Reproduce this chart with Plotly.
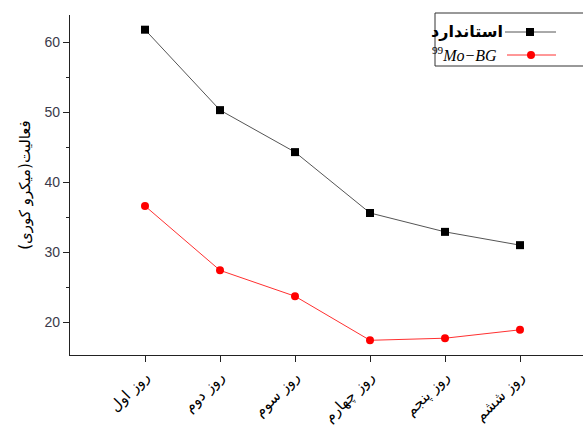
import plotly.graph_objects as go

days = ["روز اول", "روز دوم", "روز سوم", "روز چهارم", "روز پنجم", "روز ششم"]
standard = [61.8, 50.3, 44.3, 35.6, 32.9, 31.0]
mobg = [36.6, 27.4, 23.7, 17.4, 17.7, 18.9]
y_ticks = [20, 30, 40, 50, 60]

W, H = 583, 428
ML, MR, MT, MB = 70, 0, 15, 73
PW, PH = W - ML - MR, H - MT - MB


def px(x):
    return (x - ML) / PW


def py(y):
    return (H - MB - y) / PH


fig = go.Figure()
fig.add_trace(go.Scatter(
    x=days, y=standard, mode="lines+markers",
    line=dict(color="#555555", width=1),
    marker=dict(symbol="square", size=8, color="black"),
    showlegend=False,
))
fig.add_trace(go.Scatter(
    x=days, y=mobg, mode="lines+markers",
    line=dict(color="#ff3030", width=1),
    marker=dict(symbol="circle", size=8, color="#ff0000"),
    showlegend=False,
))

shapes = []
# legend box
shapes.append(dict(type="rect", xref="paper", yref="paper",
                   x0=px(435), x1=px(586), y0=py(66), y1=py(13),
                   line=dict(color="#333333", width=1), fillcolor="white"))
# legend entry 1
shapes.append(dict(type="line", xref="paper", yref="paper",
                   x0=px(505), x1=px(556), y0=py(32), y1=py(32),
                   line=dict(color="#555555", width=1)))
shapes.append(dict(type="rect", xref="paper", yref="paper",
                   x0=px(526), x1=px(534), y0=py(36), y1=py(28),
                   line=dict(color="black", width=0), fillcolor="black"))
# legend entry 2
shapes.append(dict(type="line", xref="paper", yref="paper",
                   x0=px(507), x1=px(556), y0=py(55), y1=py(55),
                   line=dict(color="#ff3030", width=1)))
shapes.append(dict(type="circle", xref="paper", yref="paper",
                   x0=px(527), x1=px(535), y0=py(59), y1=py(51),
                   line=dict(color="#ff0000", width=0), fillcolor="#ff0000"))

annotations = [
    dict(text="<b>استاندارد</b>", xref="paper", yref="paper",
         x=px(505), y=py(31), xanchor="right", yanchor="middle", showarrow=False,
         font=dict(family="DejaVu Sans", size=16, color="black")),
    dict(text="<sup>99</sup><i>Mo−BG</i>", xref="paper", yref="paper",
         x=px(499), y=py(54), xanchor="right", yanchor="middle", showarrow=False,
         font=dict(family="Liberation Serif", size=16, color="black")),
]

fig.update_layout(
    width=W, height=H,
    margin=dict(l=ML, r=MR, t=MT, b=MB),
    plot_bgcolor="white", paper_bgcolor="white",
    shapes=shapes, annotations=annotations,
    xaxis=dict(
        type="category", range=[-1, 5.84],
        showgrid=False, zeroline=False,
        showline=True, linecolor="#222222", linewidth=1.3,
        ticks="outside", ticklen=6, tickwidth=1.3, tickcolor="#222222",
        tickangle=-45,
        tickfont=dict(family="DejaVu Sans", size=15, color="black"),
    ),
    yaxis=dict(
        range=[15.3, 63.9],
        tickvals=y_ticks,
        showgrid=False, zeroline=False,
        showline=True, linecolor="#222222", linewidth=1.3,
        ticks="outside", ticklen=6, tickwidth=1.3, tickcolor="#222222",
        minor=dict(dtick=5, tick0=0, ticks="outside", ticklen=3, tickwidth=1.3, tickcolor="#222222"),
        tickfont=dict(family="Liberation Sans", size=14, color="#3a3a4a"),
        title=dict(text="فعالیت(میکرو کوری)", standoff=10,
                   font=dict(family="DejaVu Sans", size=15, color="black")),
    ),
)

fig.write_html("out.html")
